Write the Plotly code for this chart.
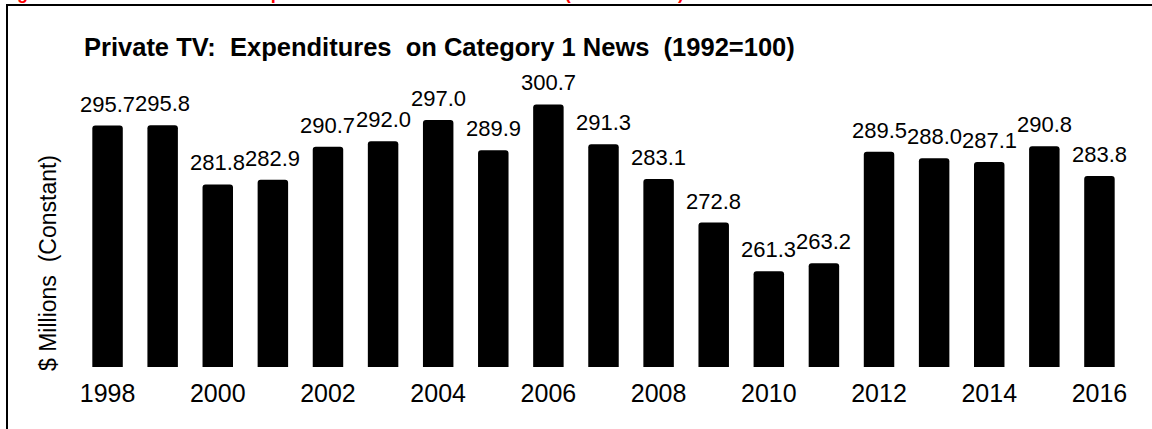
import plotly.graph_objects as go

years = list(range(1998, 2017))
values = [295.7, 295.8, 281.8, 282.9, 290.7, 292.0, 297.0, 289.9, 300.7, 291.3,
          283.1, 272.8, 261.3, 263.2, 289.5, 288.0, 287.1, 290.8, 283.8]
tick_years = list(range(1998, 2017, 2))
labels = [f"{v:.1f}" for v in values]

W, H = 1152, 429
ML, MR, MT, MB = 80, 25, 65, 62
PW, PH = W - ML - MR, H - MT - MB

def px_x(p):
    return (p - ML) / PW

def px_y(p):
    return (H - MB - p) / PH

FONT = "Liberation Sans, Arial, sans-serif"
NB = "\u00a0"

fig = go.Figure()
fig.add_trace(go.Bar(
    x=years, y=values, marker=dict(color="black", cornerradius=3, line=dict(width=0)),
    hoverinfo="skip",
))

for yr, v, t in zip(years, values, labels):
    fig.add_annotation(x=yr, y=v, text=t, showarrow=False, yanchor="bottom",
                       yshift=7, font=dict(family=FONT, size=22, color="black"))

fig.add_annotation(xref="paper", yref="paper", x=px_x(82), y=px_y(47),
                   xanchor="left", yanchor="middle", showarrow=False,
                   text=f"<b>Private TV:{NB}{NB}Expenditures{NB}{NB}on Category 1 News{NB}{NB}(1992=100)</b>",
                   font=dict(family=FONT, size=25.5, color="black"))

fig.add_annotation(xref="paper", yref="paper", x=px_x(48), y=px_y(263),
                   xanchor="center", yanchor="middle", showarrow=False, textangle=-90,
                   text=f"$ Millions{NB}{NB}(Constant)",
                   font=dict(family=FONT, size=23, color="black"))

# cropped red caption at the very top
fig.add_annotation(xref="paper", yref="paper", x=px_x(0), y=px_y(4),
                   xanchor="left", yanchor="bottom", showarrow=False,
                   text="<b>Figure 14: Private Television Expenditures on Local Station News (1998 to 2016)</b>",
                   font=dict(family=FONT, size=18, color="red"), borderpad=0)

fig.add_shape(type="rect", xref="paper", yref="paper",
              x0=px_x(7), x1=px_x(1170), y0=px_y(5), y1=px_y(445),
              line=dict(color="black", width=2), fillcolor="rgba(0,0,0,0)", layer="below")

fig.update_layout(
    width=W, height=H, margin=dict(l=ML, r=MR, t=MT, b=MB),
    paper_bgcolor="white", plot_bgcolor="white", showlegend=False,
    bargap=0.447,
    xaxis=dict(range=[1997.5, 2016.5], tickmode="array", tickvals=tick_years,
               ticktext=[str(y) for y in tick_years], showgrid=False, zeroline=False,
               showline=False, ticks="", ticklabelstandoff=9,
               tickfont=dict(family=FONT, size=25, color="black")),
    yaxis=dict(range=[238.7, 310], visible=False, showgrid=False, zeroline=False),
)

fig.write_html("out.html", config={"displayModeBar": False},
               post_script="document.body.style.margin='0';document.body.style.overflow='hidden';")
